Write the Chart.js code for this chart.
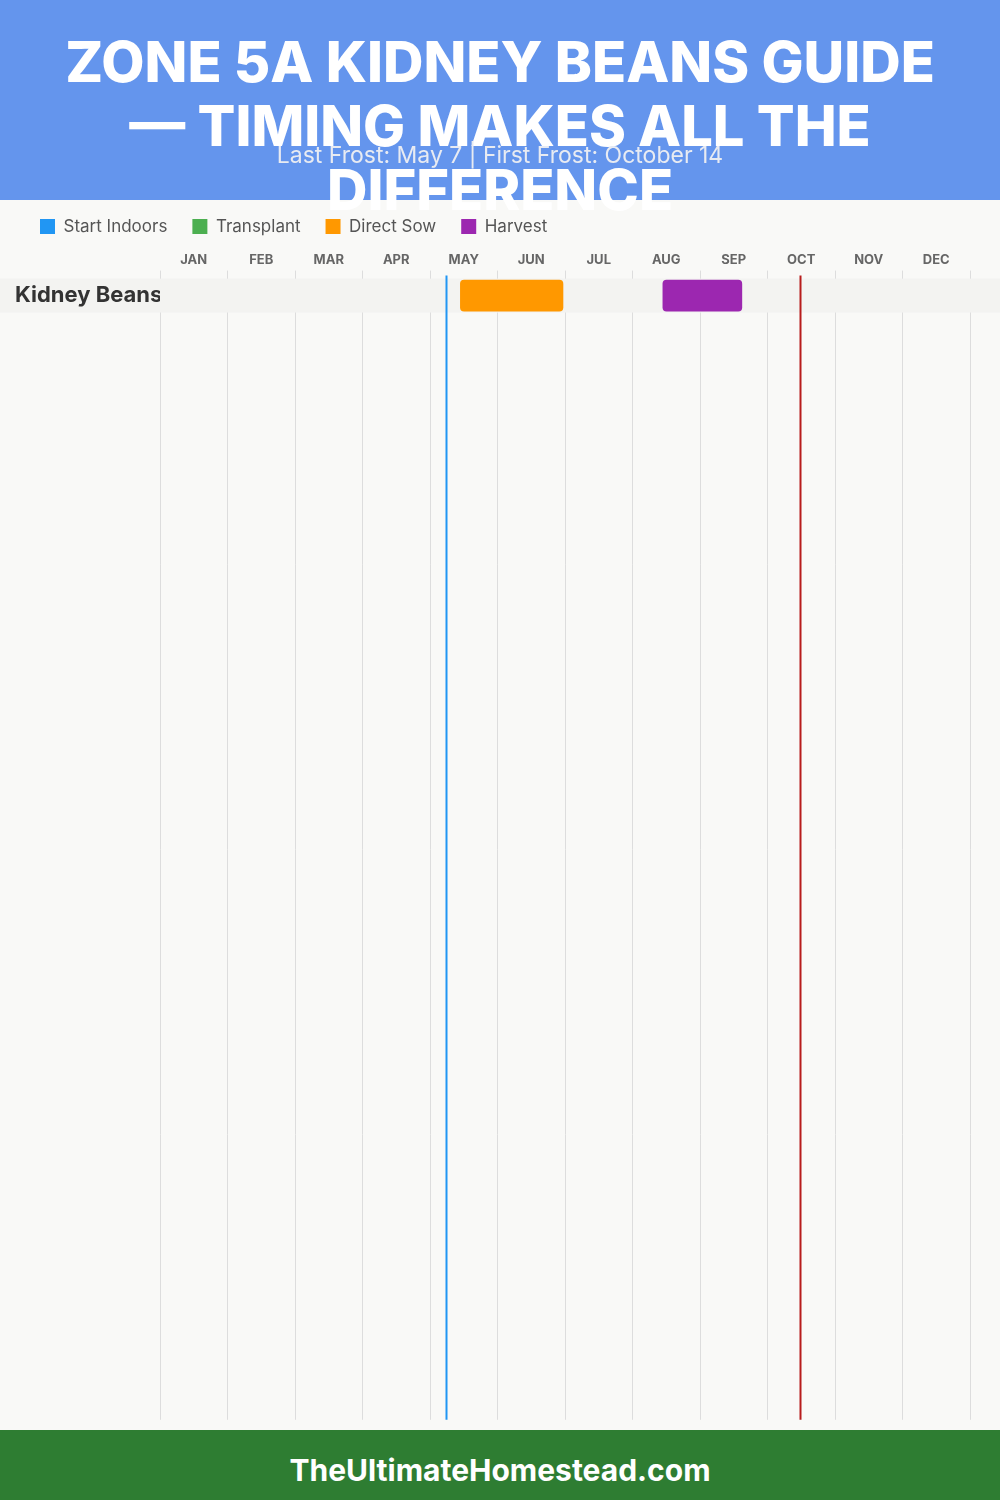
<!DOCTYPE html>
<html>
<head>
<meta charset="utf-8">
<script src="https://cdn.jsdelivr.net/npm/chart.js@4.4.1/dist/chart.umd.min.js"></script>
<style>
  body { margin: 0; width: 1000px; height: 1500px; background: #f9f9f7; position: relative; overflow: hidden; font-family: Inter, 'Open Sans', sans-serif; }
  #header { position: absolute; left: 0; top: 0; width: 1000px; height: 200px; background: #6495ED; z-index: 2; }
  #title { position: absolute; left: 0; top: 30px; width: 1000px; text-align: center; color: #fff; font-weight: 800; font-size: 56px; line-height: 64px; margin: 0; }
  #subtitle { position: absolute; left: 0; top: 140px; width: 1000px; text-align: center; color: #e8ebf2; font-size: 23px; line-height: 30px; }
  #chartBox { position: absolute; left: 0; top: 193px; width: 1000px; height: 1243px; z-index: 1; }
  #footer { position: absolute; left: 0; top: 1430px; width: 1000px; height: 70px; background: #2E7D32; color: #fff; text-align: center; font-weight: 700; font-size: 30px; line-height: 80px; z-index: 2; }
</style>
</head>
<body>
<div id="header">
  <h1 id="title">ZONE 5A KIDNEY BEANS GUIDE<br>— TIMING MAKES ALL THE<br>DIFFERENCE</h1>
  <div id="subtitle">Last Frost: May 7 | First Frost: October 14</div>
</div>
<div id="chartBox"><canvas id="plan" width="1000" height="1243"></canvas></div>
<div id="footer">TheUltimateHomestead.com</div>

<script>
// months, counted from 0 = Jan 1, fractional = day within month
const months = ['JAN', 'FEB', 'MAR', 'APR', 'MAY', 'JUN', 'JUL', 'AUG', 'SEP', 'OCT', 'NOV', 'DEC'];
const crops = ['Kidney Beans'];
const stages = ['Start Indoors', 'Transplant', 'Direct Sow', 'Harvest'];
const stageColors = ['#2196F3', '#4CAF50', '#FF9800', '#9C27B0'];

// one [start, end] per crop, empty when the stage is not used
const startIndoors = [];
const transplant = [];
const directSow = [[4.45, 5.97]];
const harvest = [[7.45, 8.62]];

const lastFrost = 4.24;   // May 7
const firstFrost = 9.48;  // Oct 14

const stageData = [startIndoors, transplant, directSow, harvest];
const FONT = 'Inter';

let rowBands = {
    id: 'rowBands',
    beforeDatasetsDraw: function (chart) {
        const ctx = chart.ctx;
        const y = chart.scales.y;
        ctx.save();
        ctx.fillStyle = '#f3f3f1';
        crops.forEach(function (c, i) {
            let top = y.getPixelForValue(i);
            let bottom = y.getPixelForValue(i + 1);
            ctx.fillRect(0, top, chart.width, bottom - top);
        });
        ctx.restore();
    }
};

let frostLines = {
    id: 'frostLines',
    afterDatasetsDraw: function (chart) {
        const ctx = chart.ctx;
        const x = chart.scales.x;
        const area = chart.chartArea;
        [[lastFrost, '#2196F3'], [firstFrost, '#B71C1C']].forEach(function (f) {
            let px = Math.round(x.getPixelForValue(f[0])) + 0.5;
            ctx.save();
            ctx.strokeStyle = f[1];
            ctx.lineWidth = 2;
            ctx.beginPath();
            ctx.moveTo(px, area.top - 3);
            ctx.lineTo(px, area.bottom);
            ctx.stroke();
            ctx.restore();
        });
    }
};

let datasets = stages.map(function (name, s) {
    return {
        label: name,
        data: stageData[s].map(function (range, i) {
            return {x: range, y: i + 0.5};
        }),
        backgroundColor: stageColors[s],
        borderWidth: 0,
        borderRadius: 4,
        borderSkipped: false,
        barThickness: 31,
        grouped: false
    };
});

new Chart('plan', {
    type: 'bar',
    data: {datasets: datasets},
    plugins: [rowBands, frostLines],
    options: {
        indexAxis: 'y',
        responsive: false,
        animation: false,
        layout: {autoPadding: false, padding: {left: 15, right: 30, top: 0, bottom: 10}},
        plugins: {
            tooltip: {enabled: false},
            legend: {
                position: 'top',
                align: 'start',
                labels: {
                    boxWidth: 15,
                    boxHeight: 15,
                    padding: 25,
                    color: '#555',
                    font: {family: FONT, size: 17}
                }
            }
        },
        scales: {
            x: {
                type: 'linear',
                position: 'top',
                weight: 1,
                min: 0,
                max: 12,
                grid: {display: false, drawTicks: false},
                border: {display: false},
                afterFit: function (scale) { scale.height += 4; },
                afterBuildTicks: function (scale) {
                    scale.ticks = months.map(function (m, i) { return {value: i + 0.5}; });
                },
                ticks: {
                    autoSkip: false,
                    maxRotation: 0,
                    padding: 3,
                    color: '#666',
                    font: {family: FONT, size: 13, weight: 'bold'},
                    callback: function (v, i) { return months[i]; }
                }
            },
            xg: {
                type: 'linear',
                position: 'top',
                weight: 0,
                min: 0,
                max: 12,
                grid: {color: '#dddddd', lineWidth: 1, tickLength: 8},
                border: {display: false},
                ticks: {display: false, stepSize: 1}
            },
            y: {
                type: 'linear',
                reverse: true,
                offset: false,
                min: 0,
                max: 33.6,
                grid: {display: false},
                border: {display: false},
                afterFit: function (scale) { scale.width = 145; },
                afterBuildTicks: function (scale) {
                    scale.ticks = crops.map(function (c, i) { return {value: i + 0.5}; });
                },
                ticks: {
                    z: 1,
                    crossAlign: 'far',
                    color: '#333',
                    font: {family: FONT, size: 22, weight: 'bold'},
                    callback: function (v, i) { return crops[i]; }
                }
            }
        }
    }
});
</script>
</body>
</html>
